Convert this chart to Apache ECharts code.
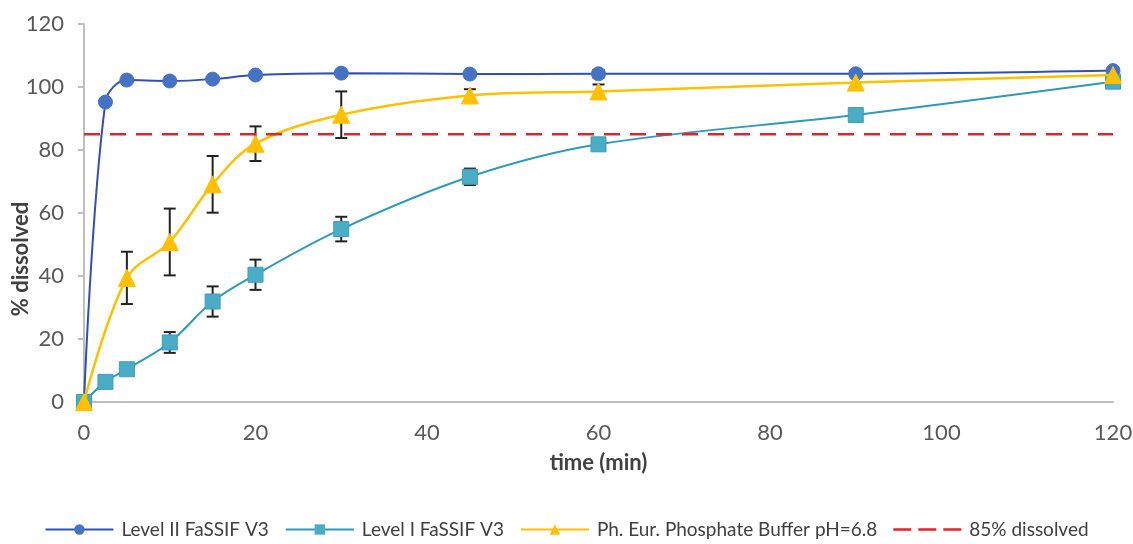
<!DOCTYPE html>
<html>
<head>
<meta charset="utf-8">
<script src="https://cdn.jsdelivr.net/npm/echarts@6/dist/echarts.min.js"></script>
<style>
  html, body { margin: 0; padding: 0; background: #fff; }
  #chart { width: 1133px; height: 544px; }
</style>
</head>
<body>
<div id="chart"></div>
<script>
// sampling times (min)
var timeII = [0, 2.5, 5, 10, 15, 20, 30, 45, 60, 90, 120];
var timeI = [0, 2.5, 5, 10, 15, 20, 30, 45, 60, 90, 120];
var timePh = [0, 5, 10, 15, 20, 30, 45, 60, 90, 120];

// % dissolved
var levelII = [0, 95.2, 102.2, 101.9, 102.5, 103.8, 104.4, 104.1, 104.2, 104.2, 105.2];
var levelI = [0, 6.4, 10.4, 18.9, 31.9, 40.4, 54.9, 71.5, 81.8, 91.1, 101.7];
var phBuffer = [0, 39.4, 50.8, 69.1, 82.0, 91.2, 97.3, 98.6, 101.4, 103.8];

// standard deviations (error bars)
var levelIIErr = [0, 0, 0, 0, 0, 0, 0, 0, 1.2, 0, 0];
var levelIErr = [0, 0, 0, 3.3, 4.8, 4.8, 3.9, 2.6, 1.6, 0, 0];
var phBufferErr = [0, 8.3, 10.6, 9.0, 5.5, 7.4, 2.0, 2.2, 0, 0];

var limit = 85;
var names = ['Level II FaSSIF V3', 'Level I FaSSIF V3', 'Ph. Eur. Phosphate Buffer pH=6.8', '85% dissolved'];

var font = 'Lato, "Open Sans", sans-serif';

function pairs(t, v) {
  return t.map(function (x, i) { return [x, v[i]]; });
}

function errRows(t, v, e) {
  var rows = [];
  t.forEach(function (x, i) {
    if (e[i] > 0) rows.push([x, v[i] - e[i], v[i] + e[i]]);
  });
  return rows;
}

function renderErr(params, api) {
  var lo = api.coord([api.value(0), api.value(1)]);
  var hi = api.coord([api.value(0), api.value(2)]);
  var w = 6;
  var style = { stroke: '#222', lineWidth: 2 };
  return {
    type: 'group',
    children: [
      { type: 'line', shape: { x1: lo[0], y1: lo[1], x2: hi[0], y2: hi[1] }, style: style },
      { type: 'line', shape: { x1: lo[0] - w, y1: lo[1], x2: lo[0] + w, y2: lo[1] }, style: style },
      { type: 'line', shape: { x1: hi[0] - w, y1: hi[1], x2: hi[0] + w, y2: hi[1] }, style: style }
    ]
  };
}

// dashed legend icon (three dashes)
var dashIcon = 'path://M0,5h18v2.5h-18z M25,5h18v2.5h-18z M50,5h18v2.5h-18z M0,0h0.01v12.5h-0.01z';

var chart = echarts.init(document.getElementById('chart'));

var option = {
  animation: false,
  grid: { left: 84, right: 20, top: 24, bottom: 142, outerBoundsMode: 'none' },
  legend: {
    data: [names[0], names[1], names[2], { name: names[3], icon: dashIcon }],
    bottom: 0,
    left: 'center',
    itemWidth: 68,
    itemHeight: 13,
    itemGap: 16,
    textStyle: { fontFamily: font, fontSize: 19, color: '#404040', padding: [0, 0, 0, 3] }
  },
  xAxis: {
    type: 'value',
    min: 0,
    max: 120,
    interval: 20,
    name: 'time (min)',
    nameLocation: 'middle',
    nameGap: 50,
    nameMoveOverlap: false,
    nameTextStyle: { fontFamily: font, fontSize: 22, fontWeight: 'bold', color: '#404040' },
    axisLine: { lineStyle: { color: '#bfbfbf', width: 2 } },
    axisTick: { show: false },
    axisLabel: { fontFamily: font, fontSize: 22, color: '#595959', margin: 20 },
    splitLine: { show: false }
  },
  yAxis: {
    type: 'value',
    min: 0,
    max: 120,
    interval: 20,
    name: '% dissolved',
    nameLocation: 'middle',
    nameGap: 52,
    nameMoveOverlap: false,
    nameTextStyle: { fontFamily: font, fontSize: 22, fontWeight: 'bold', color: '#404040', padding: [0, 92, 0, 0] },
    axisLine: { show: true, lineStyle: { color: '#bfbfbf', width: 2 } },
    axisTick: { show: true, length: 6, lineStyle: { color: '#bfbfbf', width: 2 } },
    axisLabel: { fontFamily: font, fontSize: 22, color: '#595959', margin: 20 },
    splitLine: { show: false }
  },
  series: [
    {
      name: names[0],
      type: 'line',
      smooth: 0.35,
      data: pairs(timeII, levelII),
      symbol: 'circle',
      symbolSize: 14,
      lineStyle: { color: '#2f50b8', width: 2 },
      itemStyle: { color: '#4472c4', borderColor: '#4472c4' },
      z: 3
    },
    {
      name: names[1],
      type: 'line',
      smooth: 0.35,
      data: pairs(timeI, levelI),
      symbol: 'rect',
      symbolSize: 15,
      lineStyle: { color: '#2e9ab8', width: 2 },
      itemStyle: { color: '#4bacc6', borderColor: '#3a9fbb' },
      z: 4
    },
    {
      name: names[2],
      type: 'line',
      smooth: 0.35,
      data: pairs(timePh, phBuffer),
      symbol: 'triangle',
      symbolSize: 17,
      lineStyle: { color: '#ffc000', width: 2.5 },
      itemStyle: { color: '#ffc000', borderColor: '#ffc000' },
      z: 5
    },
    {
      name: names[3],
      type: 'line',
      data: [[0, limit], [120, limit]],
      symbol: 'none',
      lineStyle: { color: '#e8202a', width: 2.5, type: [16, 10] },
      itemStyle: { color: '#e8202a' },
      z: 6
    },
    {
      type: 'custom',
      renderItem: renderErr,
      data: errRows(timeII, levelII, levelIIErr),
      encode: { x: 0, y: [1, 2] },
      z: 2,
      silent: true
    },
    {
      type: 'custom',
      renderItem: renderErr,
      data: errRows(timeI, levelI, levelIErr),
      encode: { x: 0, y: [1, 2] },
      z: 2,
      silent: true
    },
    {
      type: 'custom',
      renderItem: renderErr,
      data: errRows(timePh, phBuffer, phBufferErr),
      encode: { x: 0, y: [1, 2] },
      z: 2,
      silent: true
    }
  ]
};

chart.setOption(option);
</script>
</body>
</html>
